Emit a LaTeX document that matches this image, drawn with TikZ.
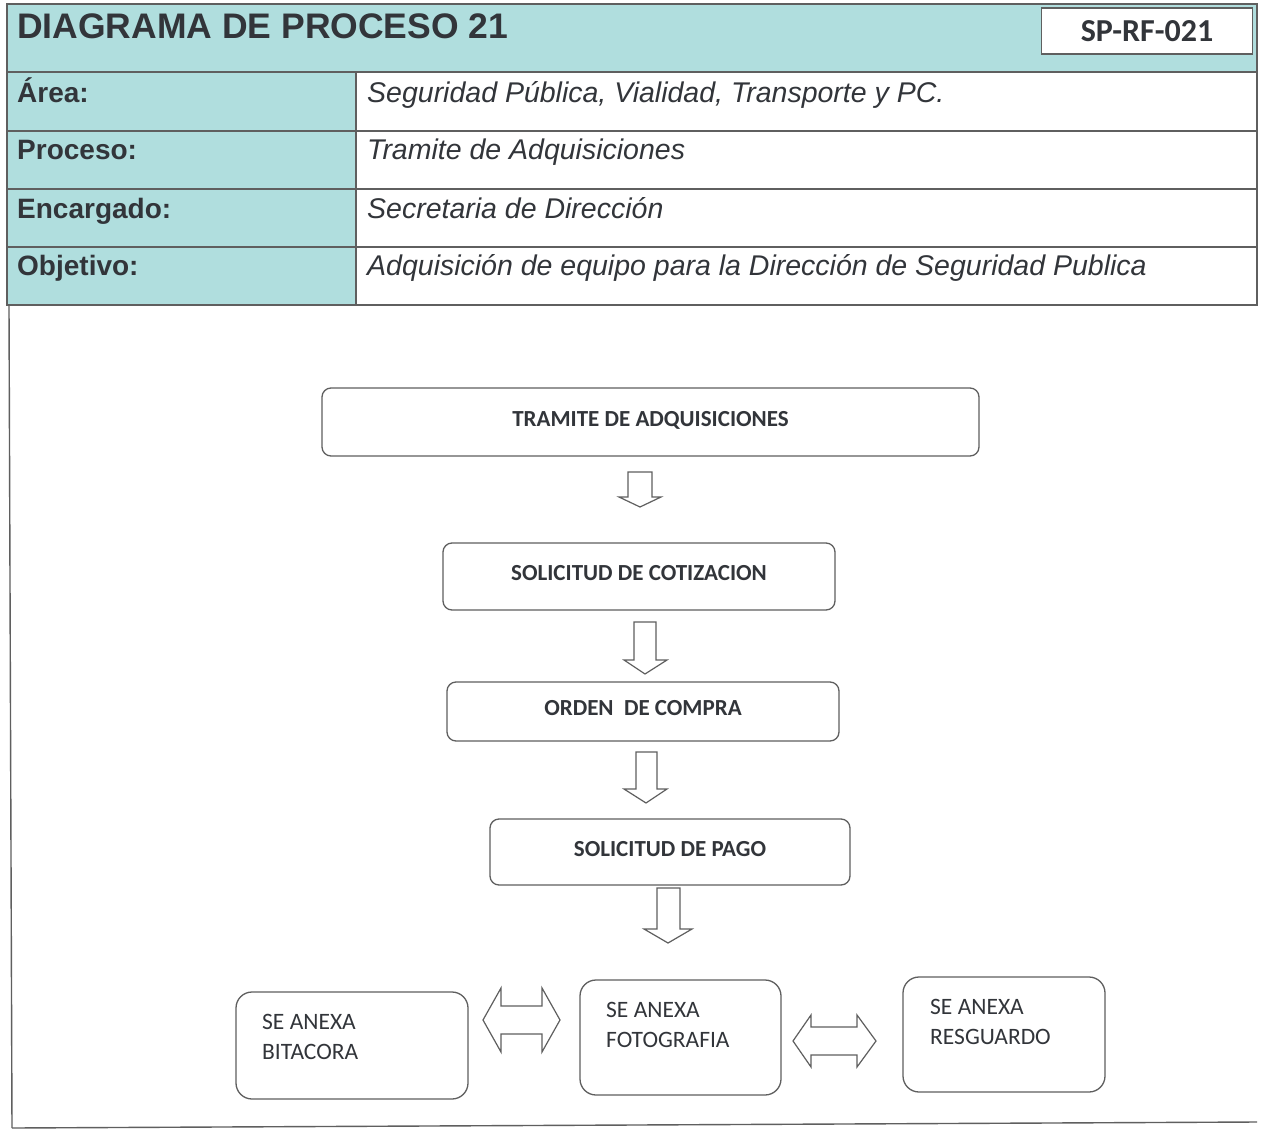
\documentclass[tikz,border=0pt]{standalone}
\usepackage{fontspec}
\newfontfamily\arialf{Liberation Sans}
\newfontfamily\calif{Carlito}
\definecolor{teal1}{RGB}{176,222,222}
\definecolor{lin}{RGB}{95,95,95}
\definecolor{txt}{RGB}{50,53,58}
\begin{document}
\begin{tikzpicture}[x=1pt,y=-1pt,
  tline/.style={draw=lin,line width=1.4pt},
  lab/.style={anchor=base west,inner sep=0pt,text=txt,font=\arialf\bfseries\fontsize{28}{28}\selectfont},
  val/.style={anchor=base west,inner sep=0pt,text=txt,font=\arialf\itshape\fontsize{28.5}{28.5}\selectfont},
  procbox/.style={draw=lin,line width=1.3pt,rounded corners=9pt,fill=white,text=txt,font=\calif\bfseries\fontsize{23}{23}\selectfont,inner sep=0pt,text height=15pt,text depth=7pt},
  sidebox/.style={draw=lin,line width=1.3pt,rounded corners=16pt,fill=white,inner sep=0pt},
  sidetxt/.style={anchor=north west,inner sep=0pt,align=left,text=txt,font=\calif\fontsize{23.5}{30}\selectfont},
  blockarrow/.style={draw=lin,line width=1.2pt,fill=white,line join=miter}
]
\useasboundingbox (0,0) rectangle (1261,1137);
\fill[white] (0,0) rectangle (1261,1137);
% header table
\fill[teal1] (7,4) rectangle (1257,72);
\fill[teal1] (7,72) rectangle (356,305);
\draw[tline] (7,4) rectangle (1257,305);
\draw[tline] (7,72) -- (1257,72);
\draw[tline] (7,131) -- (1257,131);
\draw[tline] (7,189) -- (1257,189);
\draw[tline] (7,247) -- (1257,247);
\draw[tline] (356,72) -- (356,305);
\node[anchor=base west,inner sep=0pt,text=txt,font=\arialf\bfseries\fontsize{35.5}{35.5}\selectfont] (title) at (17,39) {DIAGRAMA DE PROCESO 21};
\node[draw=lin,line width=1.4pt,fill=white,minimum width=211pt,minimum height=46pt,inner sep=0pt,text=txt,font=\calif\bfseries\fontsize{32}{32}\selectfont] (code) at (1147,31) {SP-RF-021};
\node[lab] (l1) at (17,103) {Área:};
\node[lab] (l2) at (17,160) {Proceso:};
\node[lab] (l3) at (17,218) {Encargado:};
\node[lab] (l4) at (17,275) {Objetivo:};
\node[val] (v1) at (367,103) {Seguridad Pública, Vialidad, Transporte y PC.};
\node[val] (v2) at (367,160) {Tramite de Adquisiciones};
\node[val] (v3) at (367,218) {Secretaria de Dirección};
\node[val] (v4) at (367,275) {Adquisición de equipo para la Dirección de Seguridad Publica};
% frame below table
\draw[tline] (9,305) -- (12,1128);
\draw[tline] (12,1128) -- (1257,1122);
% process boxes
\node[procbox,minimum width=657pt,minimum height=68pt] (b1) at (650.5,422) {TRAMITE DE ADQUISICIONES};
\node[procbox,minimum width=392pt,minimum height=67pt] (b2) at (639,576.5) {SOLICITUD DE COTIZACION};
\node[procbox,minimum width=392pt,minimum height=59pt] (b3) at (643,711.5) {ORDEN \ DE COMPRA};
\node[procbox,minimum width=360pt,minimum height=66pt] (b4) at (670,852) {SOLICITUD DE PAGO};
% hollow down arrows
\draw[blockarrow] (628,472) -- (652,472) -- (652,497) -- (661,497) -- (640,507) -- (619,497) -- (628,497) -- cycle;
\draw[blockarrow] (634,622) -- (656,622) -- (656,660) -- (667,660) -- (645,674) -- (624,660) -- (634,660) -- cycle;
\draw[blockarrow] (636,752) -- (657,752) -- (657,789) -- (667,789) -- (646,803) -- (624,789) -- (636,789) -- cycle;
\draw[blockarrow] (657,888) -- (680,888) -- (680,929) -- (692,929) -- (668,943) -- (644,929) -- (657,929) -- cycle;
% bottom boxes
\node[sidebox,minimum width=232pt,minimum height=107pt] (s1) at (352,1045.5) {};
\node[sidebox,minimum width=201pt,minimum height=115pt] (s2) at (680.5,1037.5) {};
\node[sidebox,minimum width=202pt,minimum height=115pt] (s3) at (1004,1034.5) {};
\node[sidetxt] (t1) at (262,1014) {SE ANEXA\\BITACORA};
\node[sidetxt] (t2) at (606,1002) {SE ANEXA\\FOTOGRAFIA};
\node[sidetxt] (t3) at (930,999) {SE ANEXA\\RESGUARDO};
% double arrows
\draw[blockarrow] (483,1020) -- (501,988) -- (501,1006) -- (542,1006) -- (542,988) -- (560,1020) -- (542,1052) -- (542,1034) -- (501,1034) -- (501,1052) -- cycle;
\draw[blockarrow] (793,1041) -- (811,1015) -- (811,1027) -- (857,1027) -- (857,1015) -- (876,1041) -- (857,1067) -- (857,1055) -- (811,1055) -- (811,1067) -- cycle;
\end{tikzpicture}
\end{document}
